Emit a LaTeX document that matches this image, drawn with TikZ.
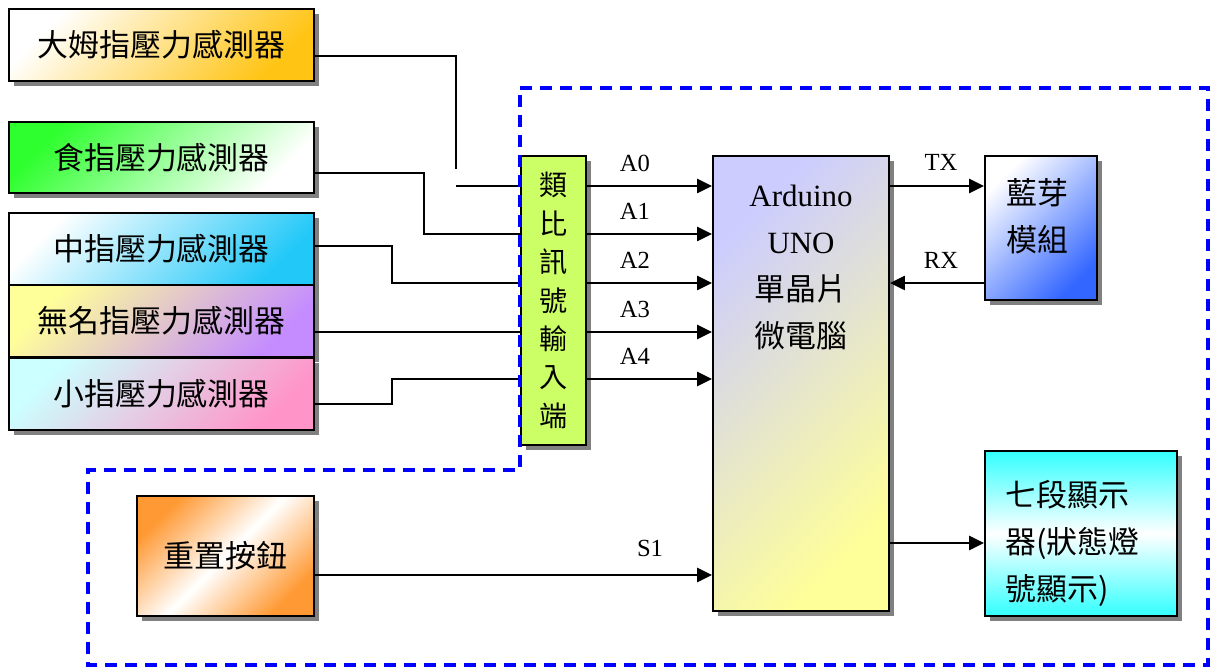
\documentclass[tikz,border=0pt]{standalone}
\usepackage{fontspec}
\setmainfont{Liberation Serif}
\newfontfamily\cjk{Noto Sans CJK TC}
\usepackage{tikz}
\usetikzlibrary{arrows.meta,positioning,calc,shadows}
\definecolor{sgold}{HTML}{FFC414}
\definecolor{sgreen}{HTML}{2EFF2E}
\definecolor{sblue}{HTML}{22C8F8}
\definecolor{syellow}{HTML}{FFFF99}
\definecolor{sviolet}{HTML}{C48CFF}
\definecolor{scyan}{HTML}{CCFFFF}
\definecolor{spink}{HTML}{FF94C8}
\definecolor{slime}{HTML}{CCFF66}
\definecolor{slav}{HTML}{CCCCFF}
\definecolor{sbt}{HTML}{3366FF}
\definecolor{sseg}{HTML}{33FFFF}
\definecolor{sorange}{HTML}{FF9933}
\definecolor{sdash}{HTML}{0000FF}
\tikzset{
  blk/.style={draw=black,line width=1.4pt,inner sep=2pt,align=center,anchor=north west,
    font=\cjk\fontsize{22}{33.4}\selectfont,
    drop shadow={shadow xshift=0.13cm,shadow yshift=-0.13cm,fill=black!50,opacity=1}},
  sensor/.style={blk,minimum width=7.625cm,minimum height=1.8cm},
  txt/.style={font=\cjk\fontsize{22}{33.4}\selectfont,inner sep=0pt},
  wire/.style={line width=1.2pt},
  arr/.style={-{Triangle[length=10.5pt,width=10pt]},line width=1.2pt},
  sig/.style={font=\fontsize{17.5}{20}\selectfont,inner sep=0pt},
  region/.style={draw=sdash,line width=2.4pt,dash pattern=on 8.5pt off 5.7pt},
}
\begin{document}
\begin{tikzpicture}[x=0.025cm,y=-0.025cm]
  \useasboundingbox (0,0) rectangle (1213,668);
  % rows
  \coordinate (r0) at (0,186);
  \coordinate (r1) at (0,234);
  \coordinate (r2) at (0,283);
  \coordinate (r3) at (0,332);
  \coordinate (r4) at (0,379);
  \coordinate (rg) at (0,543);
  \coordinate (rs) at (0,575);
  \coordinate (e0) at (0,56);
  \coordinate (e1) at (0,173);
  \coordinate (e2) at (0,246);
  \coordinate (e4) at (0,404);
  \coordinate (k1) at (424,0);
  \coordinate (k2) at (392,0);
  \coordinate (th) at (456,169);

  % sensors
  \node[sensor,top color=white,bottom color=sgold,shading angle=45] (thumb) at (8,8) {大姆指壓力感測器};
  \node[sensor,minimum height=1.775cm,top color=sgreen,bottom color=white,shading angle=45] (index) at (8,121) {食指壓力感測器};
  \node[sensor,top color=white,bottom color=sblue,shading angle=45] (mid) at (8,212) {中指壓力感測器};
  \node[sensor,top color=syellow,bottom color=sviolet,shading angle=45] (ring) at (8,284) {無名指壓力感測器};
  \node[sensor,top color=scyan,bottom color=spink,shading angle=45] (little) at (8,357) {小指壓力感測器};

  \node[blk,fill=slime,minimum width=1.625cm,minimum height=7.225cm,font=\cjk\fontsize{20}{27.3}\selectfont] (adc) at (520,155) {類\\比\\訊\\號\\輸\\入\\端};
  \node[blk,minimum width=4.4cm,minimum height=11.375cm,top color=slav,bottom color=syellow,shading angle=45] (ard) at (712,155) {};
  \node[txt,font=\fontsize{22}{33.4}\selectfont,align=center,anchor=north] (ardtxt) at ($(ard.north)+(0,30)$) {Arduino\\UNO\\{\cjk 單晶片}\\{\cjk 微電腦}};
  \node[blk,minimum width=2.8cm,minimum height=3.6cm,top color=white,bottom color=sbt,shading angle=45] (bt) at (984,155) {};
  \node[txt,align=center,anchor=north] (bttxt) at (1037,178) {藍芽\\模組};
  \node[blk,minimum width=4.8cm,minimum height=4.125cm,top color=sseg,bottom color=sseg,middle color=white] (seg) at (984,450) {};
  \node[txt,align=left,anchor=north west] (segtxt) at (1005,480) {七段顯示\\器(狀態燈\\號顯示)};
  \node[blk,minimum width=4.425cm,minimum height=3cm,top color=sorange,bottom color=sorange,middle color=white,shading angle=45] (reset) at (136,495) {重置按鈕};

  % sensor wires
  \draw[wire] (thumb.east |- e0) -| (th);
  \draw[wire] (th |- r0) -- (adc.west |- r0);
  \draw[wire] (index.east |- e1) -| (k1 |- r1) -- (adc.west |- r1);
  \draw[wire] (mid.east |- e2) -| (k2 |- r2) -- (adc.west |- r2);
  \draw[wire] (ring.east |- r3) -- (adc.west |- r3);
  \draw[wire] (little.east |- e4) -| (k2 |- r4) -- (adc.west |- r4);

  % analog lines
  \foreach \i in {0,...,4}{
    \draw[arr] (adc.east |- r\i) -- (ard.west |- r\i);
    \node[sig] (la\i) at ($(635,0)+(0,-23)+(r\i)$) {A\i};
  }
  \draw[arr] (ard.east |- r0) -- (bt.west |- r0);
  \node[sig] (ltx) at (941,162) {TX};
  \draw[arr] (bt.west |- r2) -- (ard.east |- r2);
  \node[sig] (lrx) at (941,260) {RX};
  \draw[arr] (ard.east |- rg) -- (seg.west |- rg);
  \draw[arr] (reset.east |- rs) -- (ard.west |- rs);
  \node[sig] (ls1) at (650,548) {S1};

  % dashed region
  \draw[region] (520,88) -| (1208,665) -| (88,470) -| (520,88);
\end{tikzpicture}
\end{document}
